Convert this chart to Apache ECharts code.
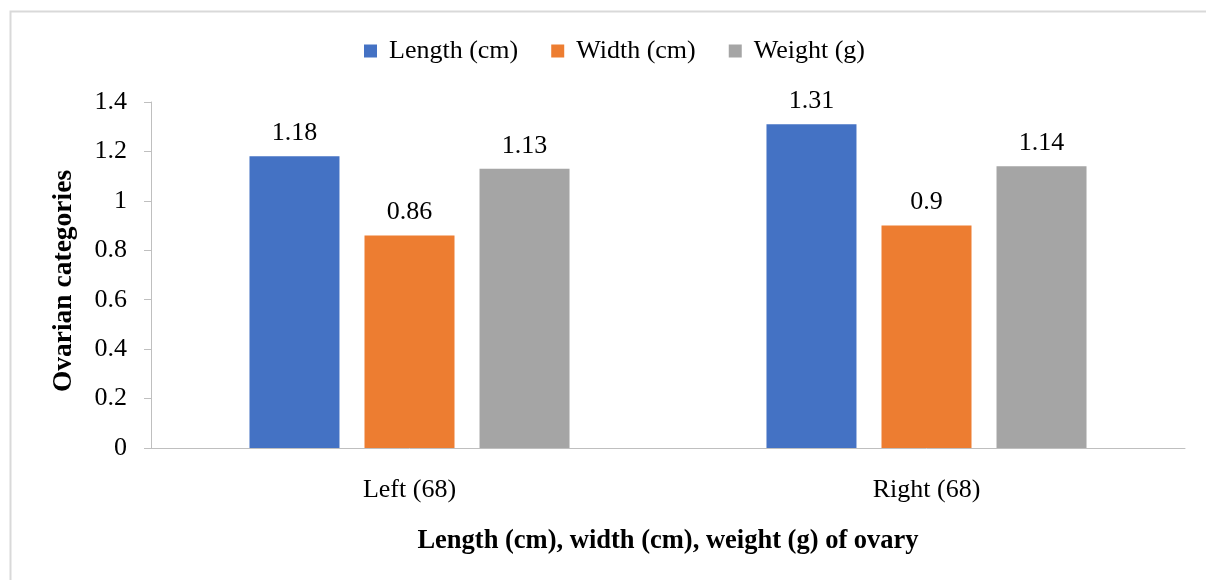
<!DOCTYPE html>
<html><head><meta charset="utf-8">
<script src="https://cdn.jsdelivr.net/npm/echarts@6/dist/echarts.min.js"></script>
<style>html,body{margin:0;padding:0;background:#fff}#c{width:1206px;height:580px}</style>
</head><body><div id="c"></div>
<script>
const categories = ['Left (68)', 'Right (68)'];
const lengthCm = [1.18, 1.31];
const widthCm = [0.86, 0.9];
const weightG = [1.13, 1.14];
const seriesNames = ['Length (cm)', 'Width (cm)', 'Weight (g)'];
const colors = ['#4472C4', '#ED7D31', '#A5A5A5'];
const font = 'Liberation Serif';
const fs = 26;

const chart = echarts.init(document.getElementById('c'), null, {renderer: 'canvas'});
const mk = (name, data, color) => ({
  name, type: 'bar', data, barWidth: 90, barGap: '27.8%',
  itemStyle: {color},
  label: {show: true, position: 'top', distance: 10, color: '#000', fontFamily: font, fontSize: fs}
});
chart.setOption({
  animation: false,
  graphic: [{type: 'rect', shape: {x: 10.5, y: 11.5, width: 1200, height: 600},
    style: {fill: 'none', stroke: '#d9d9d9', lineWidth: 2}, silent: true}],
  legend: {top: 33, left: 359, itemWidth: 13, itemHeight: 13, itemGap: 33,
    icon: 'rect', textStyle: {fontFamily: font, fontSize: fs, color: '#000', padding: [0, 0, 0, 7]},
    data: seriesNames},
  grid: {left: 151, top: 102, width: 1034, height: 346},
  xAxis: {type: 'category', data: categories,
    axisLine: {lineStyle: {color: '#bfbfbf', width: 1}}, axisTick: {show: false},
    axisLabel: {fontFamily: font, fontSize: fs, color: '#000', margin: 29},
    name: 'Length (cm), width (cm), weight (g) of ovary', nameLocation: 'middle', nameGap: 80,
    nameTextStyle: {fontFamily: font, fontSize: 26.5, fontWeight: 'bold', color: '#000'}},
  yAxis: {type: 'value', min: 0, max: 1.4, interval: 0.2,
    axisLine: {show: true, lineStyle: {color: '#bfbfbf'}},
    axisTick: {show: true, length: 7, lineStyle: {color: '#bfbfbf'}},
    splitLine: {show: false},
    axisLabel: {fontFamily: font, fontSize: fs, color: '#000', margin: 24,
      formatter: v => String(Math.round(v * 10) / 10)},
    name: 'Ovarian categories', nameLocation: 'middle', nameGap: 73, nameRotate: 90,
    nameTextStyle: {fontFamily: font, fontSize: 27.5, fontWeight: 'bold', color: '#000', padding: [0, 12, 0, 0]}},
  series: [mk(seriesNames[0], lengthCm, colors[0]), mk(seriesNames[1], widthCm, colors[1]), mk(seriesNames[2], weightG, colors[2])]
});
</script></body></html>
